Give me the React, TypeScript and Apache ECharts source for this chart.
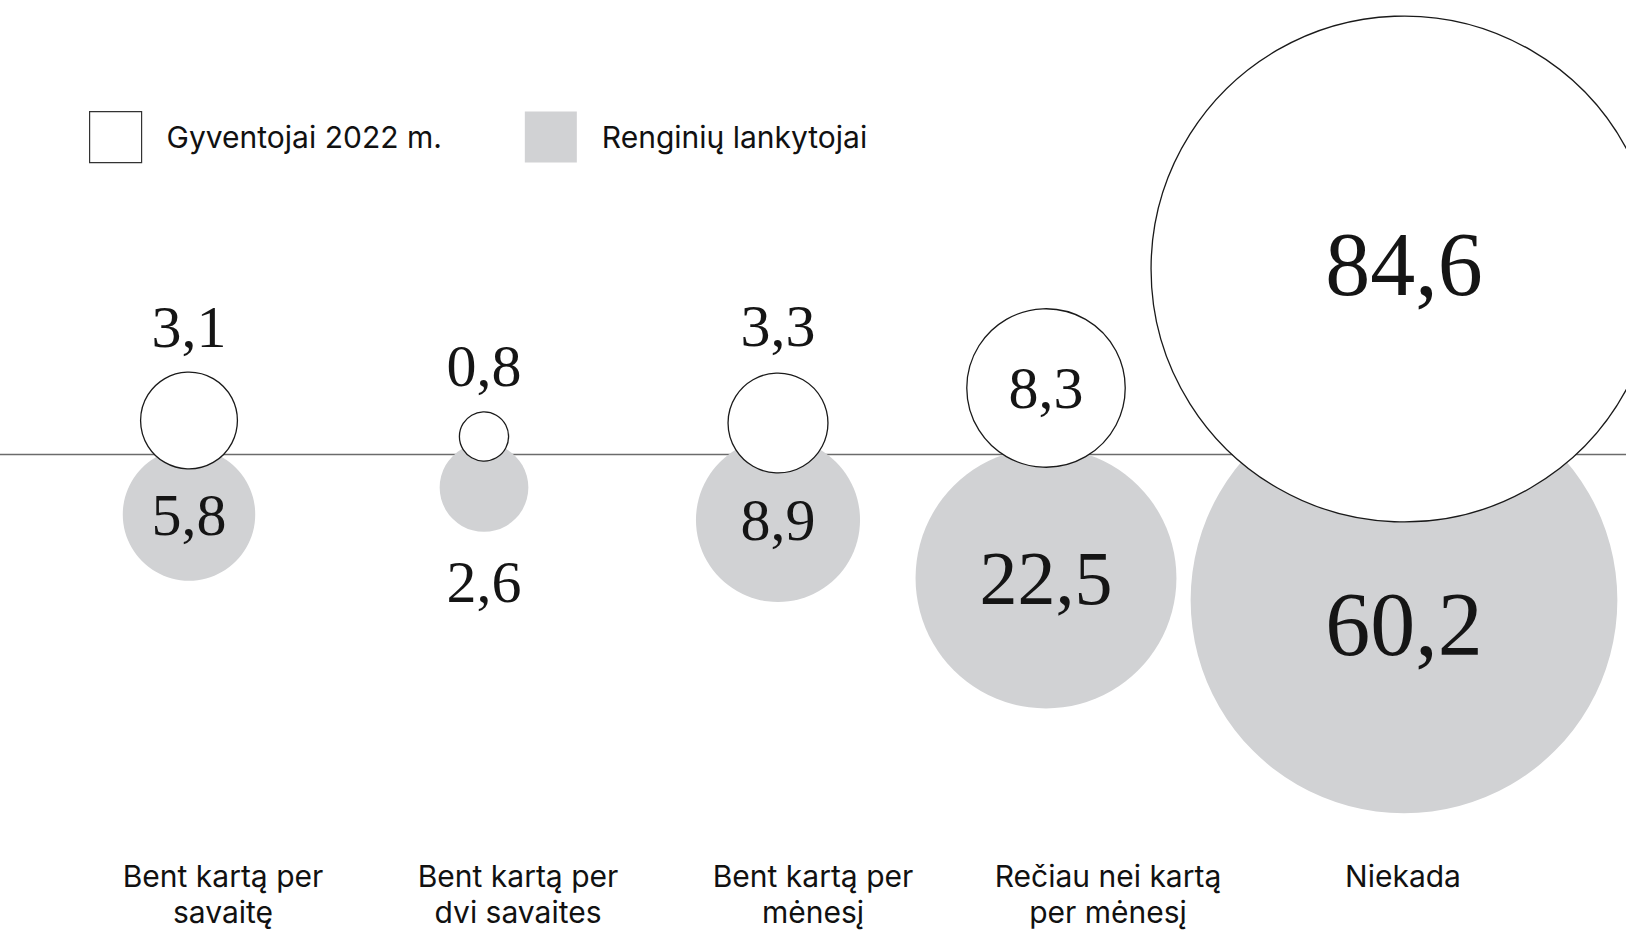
import React, { useEffect, useRef } from "react";
import * as echarts from "echarts";

// ---- data ----
const categories = [
  "Bent kartą per\nsavaitę",
  "Bent kartą per\ndvi savaites",
  "Bent kartą per\nmėnesį",
  "Rečiau nei kartą\nper mėnesį",
  "Niekada",
];
const seriesNames = ["Gyventojai 2022 m.", "Renginių lankytojai"];
const residents = [3.1, 0.8, 3.3, 8.3, 84.6];
const visitors = [5.8, 2.6, 8.9, 22.5, 60.2];

// ---- layout (px, relative to the baseline / category centre) ----
const residentLift = [34, 18, 31.5, 66.5, 185.5];
const visitorDrop = [-60, -33, -65.5, -123.5, -145.5];
const bubbleShiftX = [-34, -34, -35, -62, 1];
const residentLabelDy = [-94, -70.5, -97, 0, -5];
const visitorLabelDy = [0, 94, 0, 0, 24];

const DIAM_PER_SQRT = 55;
const W = 1626;
const H = 931;

const fmt = (v: number) => v.toFixed(1).replace(".", ",");
const labelSize = (v: number) => (v >= 50 ? 90 : v >= 20 ? 76 : 60);

function buildData(values: number[], ys: number[], dys: number[]) {
  return values.map((v, i) => ({
    value: [i, ys[i], v],
    symbolSize: DIAM_PER_SQRT * Math.sqrt(v),
    symbolOffset: [bubbleShiftX[i], 0],
    label: { offset: [0, dys[i]], fontSize: labelSize(v) },
  }));
}

export default function App() {
  const ref = useRef<HTMLDivElement>(null);
  useEffect(() => {
    document.body.style.margin = "0";
    const chart = echarts.init(ref.current!, undefined, { renderer: "svg" });
    const numLabel = {
      show: true,
      position: "inside",
      fontFamily: "'Liberation Serif', 'DejaVu Serif', serif",
      color: "#151515",
      formatter: (p: any) => fmt(p.value[2]),
    };
    chart.setOption({
      animation: false,
      grid: { left: 75.5, right: 75.5, top: 0, bottom: 91 },
      legend: {
        left: 89,
        top: 111,
        padding: 0,
        itemWidth: 52,
        itemHeight: 51,
        itemGap: 83,
        selectedMode: false,
        icon: "rect",
        textStyle: {
          fontFamily: "Inter",
          fontSize: 30,
          color: "#111",
          padding: [0, 0, 0, 20],
        },
        data: [
          {
            name: seriesNames[0],
            itemStyle: { color: "#fff", borderColor: "#333", borderWidth: 1.2 },
          },
          { name: seriesNames[1], itemStyle: { color: "#d1d2d4", borderWidth: 0 } },
        ],
      },
      xAxis: {
        type: "category",
        data: categories,
        axisLine: { show: false, onZero: false },
        axisTick: { show: false },
        splitLine: { show: false },
        axisLabel: {
          interval: 0,
          margin: 18,
          fontFamily: "Inter",
          fontSize: 30,
          lineHeight: 36,
          color: "#111",
        },
      },
      yAxis: { type: "value", min: -385.5, max: 454.5, show: false },
      series: [
        {
          name: seriesNames[1],
          type: "scatter",
          clip: false,
          z: 2,
          symbol: "circle",
          itemStyle: { color: "#d1d2d4", opacity: 1 },
          label: numLabel,
          emphasis: { disabled: true },
          data: buildData(visitors, visitorDrop, visitorLabelDy),
        },
        {
          name: seriesNames[0],
          type: "scatter",
          clip: false,
          z: 3,
          symbol: "circle",
          itemStyle: { color: "#fff", borderColor: "#1a1a1a", borderWidth: 1.3, opacity: 1 },
          label: numLabel,
          emphasis: { disabled: true },
          data: buildData(residents, residentLift, residentLabelDy),
        },
      ],
    });
    const y0 = chart.convertToPixel({ gridIndex: 0 }, [0, 0])[1];
    chart.setOption({
      graphic: [
        {
          type: "line",
          silent: true,
          z: 0,
          shape: { x1: 0, y1: y0, x2: W, y2: y0 },
          style: { stroke: "#6b6b6b", lineWidth: 1.5 },
        },
      ],
    });
    return () => chart.dispose();
  }, []);
  return <div ref={ref} style={{ width: W, height: H }} />;
}
